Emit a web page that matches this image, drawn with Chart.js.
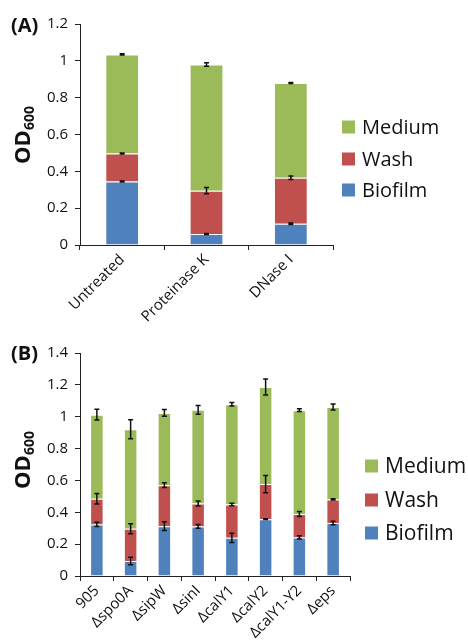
<!DOCTYPE html>
<html>
<head>
<meta charset="utf-8">
<script src="https://cdn.jsdelivr.net/npm/chart.js@4.4.1/dist/chart.umd.min.js"></script>
<style>
  body { margin: 0; background: #fff; font-family: "Open Sans", sans-serif; color: #111; }
  #wrap { position: relative; width: 468px; height: 643px; overflow: hidden; }
  canvas { position: absolute; left: 0; }
  .panel { position: absolute; left: 11px; font: bold 20px "Open Sans", sans-serif; line-height: 1; transform: translateY(-50%); }
  .ytitle { position: absolute; left: 23px; font: bold 22px "Open Sans", sans-serif; white-space: nowrap; line-height: 1;
            transform: translate(-50%, -50%) rotate(-90deg); }
  .ytitle sub { font-size: 14px; vertical-align: -4px; }
  .leg { position: absolute; white-space: nowrap; line-height: 1; }
  .leg span.box { position: absolute; width: 13px; height: 13px; left: 0; top: 50%; transform: translateY(-50%); }
  .leg span.txt { position: absolute; left: 20px; top: 50%; transform: translateY(-52%); }
</style>
</head>
<body>
<div id="wrap">
  <canvas id="chartA" width="468" height="330" style="top:0"></canvas>
  <canvas id="chartB" width="468" height="313" style="top:330px"></canvas>

  <div class="panel" style="top:25px">(A)</div>
  <div class="panel" style="top:353px">(B)</div>
  <div class="ytitle" style="top:135px">OD<sub>600</sub></div>
  <div class="ytitle" style="top:460px">OD<sub>600</sub></div>

  <div id="legA"></div>
  <div id="legB"></div>
</div>

<script>
// panel A
const labelsA = ["Untreated", "Proteinase K", "DNase I"];
const biofilmA = [0.345, 0.060, 0.115];
const washA = [0.152, 0.235, 0.250];
const mediumA = [0.538, 0.685, 0.515];
const biofilmErrA = [0.003, 0.003, 0.004];
const washErrA = [0.003, 0.017, 0.010];
const mediumErrA = [0.003, 0.010, 0.003];

// panel B
const labelsB = ["905", "Δspo0A", "ΔsipW", "ΔsinI", "ΔcalY1", "ΔcalY2", "ΔcalY1-Y2", "Δeps"];
const biofilmB = [0.324, 0.094, 0.313, 0.311, 0.240, 0.357, 0.242, 0.332];
const washB = [0.161, 0.203, 0.257, 0.144, 0.209, 0.220, 0.147, 0.149];
const mediumB = [0.528, 0.624, 0.454, 0.588, 0.629, 0.610, 0.652, 0.580];
const biofilmErrB = [0.014, 0.023, 0.028, 0.012, 0.029, 0.003, 0.010, 0.011];
const washErrB = [0.033, 0.031, 0.015, 0.016, 0.008, 0.054, 0.016, 0.004];
const mediumErrB = [0.034, 0.060, 0.021, 0.027, 0.011, 0.050, 0.009, 0.019];

const seriesNames = ["Biofilm", "Wash", "Medium"];
const colors = ["#4F81BD", "#C0504D", "#9BBB59"];

// error bars drawn at the top of each stacked segment
const errorBars = {
  id: "errorBars",
  afterDatasetsDraw(chart, args, opts) {
    const ctx = chart.ctx;
    const y = chart.scales.y;
    const sets = chart.data.datasets;
    ctx.save();
    ctx.strokeStyle = "#111";
    ctx.lineWidth = 1.5;
    sets.forEach((ds, di) => {
      const meta = chart.getDatasetMeta(di);
      ds.data.forEach((v, i) => {
        let top = 0;
        for (let k = 0; k <= di; k++) top += sets[k].data[i];
        const e = opts.errors[di][i];
        const x = meta.data[i].x;
        const y1 = y.getPixelForValue(top + e);
        const y2 = y.getPixelForValue(top - e);
        ctx.beginPath();
        ctx.moveTo(x, y1); ctx.lineTo(x, y2);
        ctx.moveTo(x - 2.5, y1); ctx.lineTo(x + 2.5, y1);
        ctx.moveTo(x - 2.5, y2); ctx.lineTo(x + 2.5, y2);
        ctx.stroke();
      });
    });
    ctx.restore();
  }
};

function makeChart(id, labels, series, errors, max, pad, yWidth, xHeight) {
  return new Chart(document.getElementById(id), {
    type: "bar",
    data: {
      labels: labels,
      datasets: series.map((d, i) => ({
        label: seriesNames[i],
        data: d,
        backgroundColor: colors[i],
        borderColor: "rgba(255,255,255,0.3)",
        borderWidth: 1,
        categoryPercentage: 1,
        barPercentage: 0.4
      }))
    },
    options: {
      responsive: false,
      animation: false,
      layout: { padding: pad },
      plugins: {
        legend: { display: false },
        tooltip: { enabled: false },
        errorBars: { errors: errors }
      },
      scales: {
        x: {
          stacked: true,
          afterFit: (s) => { s.height = xHeight; },
          grid: { offset: true, drawOnChartArea: false, tickLength: 5, color: "#222" },
          border: { color: "#222", width: 1 },
          ticks: { color: "#111", font: { family: "Open Sans", size: 15 },
                   minRotation: 45, maxRotation: 45, autoSkip: false, padding: 1 }
        },
        y: {
          stacked: true,
          min: 0,
          max: max,
          afterFit: (s) => { s.width = yWidth; },
          grid: { drawOnChartArea: false, tickLength: 5, color: "#222" },
          border: { color: "#222", width: 1 },
          ticks: { stepSize: 0.2, color: "#111", font: { family: "Open Sans", size: 15 }, padding: 7,
                   callback: (v) => String(+v.toFixed(1)) }
        }
      }
    },
    plugins: [errorBars]
  });
}

makeChart("chartA", labelsA, [biofilmA, washA, mediumA], [biofilmErrA, washErrA, mediumErrA],
  1.2, { top: 24, right: 135, left: 0, bottom: 0 }, 80, 85);
makeChart("chartB", labelsB, [biofilmB, washB, mediumB], [biofilmErrB, washErrB, mediumErrB],
  1.4, { top: 23, right: 118, left: 0, bottom: 0 }, 80, 67);

// legends, top-down order Medium, Wash, Biofilm
function legend(elId, left, top, gap, size) {
  const el = document.getElementById(elId);
  [2, 1, 0].forEach((si, row) => {
    const d = document.createElement("div");
    d.className = "leg";
    d.style.left = left + "px";
    d.style.top = (top + row * gap) + "px";
    d.style.fontSize = size + "px";
    d.innerHTML = '<span class="box" style="background:' + colors[si] + '"></span><span class="txt">' + seriesNames[si] + "</span>";
    el.appendChild(d);
  });
}
legend("legA", 342, 127, 31.5, 20);
legend("legB", 365, 466, 33.5, 21);
</script>
</body>
</html>
